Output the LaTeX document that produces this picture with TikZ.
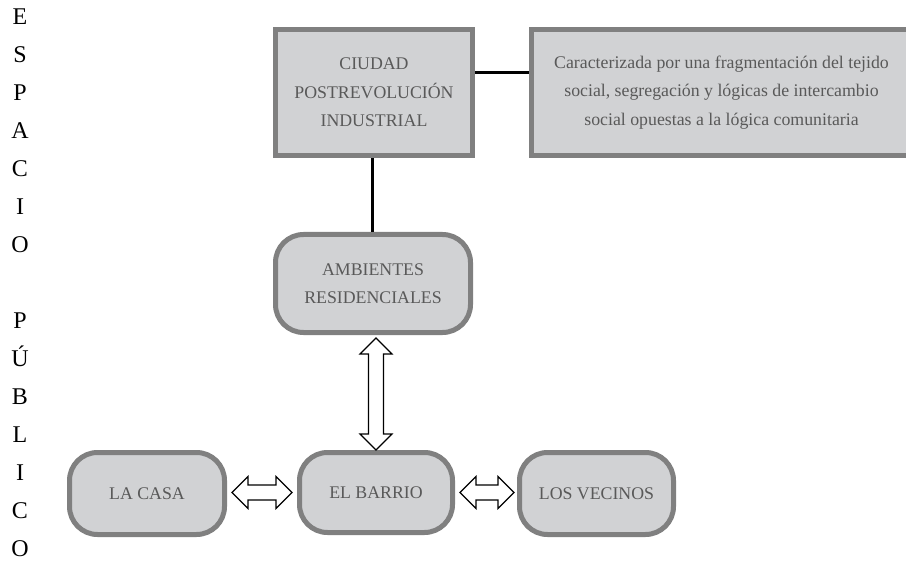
\documentclass[tikz,border=0pt]{standalone}
\usepackage{fontspec}
\setmainfont{Liberation Serif}
\usetikzlibrary{calc}
\definecolor{boxfill}{HTML}{D1D2D4}
\definecolor{boxline}{HTML}{808080}
\definecolor{boxtext}{HTML}{595959}
\newcommand\dblarrow[2]{%
  \path[arr] let \p1=(#1), \p2=(#2),
    \n1={atan2(\y2-\y1,\x2-\x1)}, \n2={veclen(\x2-\x1,\y2-\y1)} in
    [shift={(\p1)}, rotate=\n1]
    (0,0) -- (16,16) -- (16,7.5) -- (\n2-16,7.5) -- (\n2-16,16) -- (\n2,0)
    -- (\n2-16,-16) -- (\n2-16,-7.5) -- (16,-7.5) -- (16,-16) -- cycle;}
\begin{document}
\begin{tikzpicture}[x=1pt,y=-1pt,
  box/.style={draw=boxline, fill=boxfill, line width=5pt, text=boxtext,
    align=center, font=\fontsize{17.8}{28.5}\selectfont, inner sep=0pt},
  sqbox/.style={box},
  rbox/.style={box, rounded corners=28pt},
  conn/.style={line width=3pt, draw=black},
  arr/.style={draw=black, fill=white, line width=1.1pt, line join=miter},
  side/.style={font=\fontsize{24}{24}\selectfont, text=black, inner sep=0pt}]
\useasboundingbox (0,0) rectangle (906,567);

\foreach \ch [count=\i] in {E,S,P,A,C,I,O}
  \node[side, anchor=base] (esp\i) at (20,{25+(\i-1)*37.93}) {\ch};
\foreach \ch [count=\i] in {P,Ú,B,L,I,C,O}
  \node[side, anchor=base] (pub\i) at (20,{25+(\i+7)*37.93}) {\ch};

\node[sqbox, minimum width=197pt, minimum height=126pt] (ciudad) at (374,92.5)
  {CIUDAD\\POSTREVOLUCIÓN\\INDUSTRIAL};
\node[sqbox, minimum width=380pt, minimum height=126pt] (desc) at (721.5,92.5)
  {Caracterizada por una fragmentación del tejido\\social, segregación y lógicas de intercambio\\social opuestas a la lógica comunitaria};
\node[rbox, minimum width=195pt, minimum height=98pt] (amb) at (373,283.5)
  {AMBIENTES\\RESIDENCIALES};
\node[rbox, minimum width=153pt, minimum height=80pt] (barrio) at (376,492.5) {EL BARRIO};
\node[rbox, minimum width=155pt, minimum height=82pt] (casa) at (147,493.5) {LA CASA};
\node[rbox, minimum width=154pt, minimum height=82pt] (vecinos) at (596.5,493.5) {LOS VECINOS};

\draw[conn] ([yshift=19.5pt]ciudad.east) -- ([yshift=19.5pt]desc.west);
\draw[conn] ([xshift=-2pt]ciudad.south) -- ([xshift=-1pt]amb.north);

\coordinate (va) at ($(amb.south)+(3,3)$);
\coordinate (vb) at (barrio.north);
\coordinate (ha) at ($(casa.east)+(5,-1)$);
\coordinate (hb) at ($(barrio.west)+(-5,0)$);
\coordinate (hc) at ($(barrio.east)+(5,0)$);
\coordinate (hd) at ($(vecinos.west)+(-3,-1)$);
\dblarrow{va}{vb}
\dblarrow{ha}{hb}
\dblarrow{hc}{hd}
\end{tikzpicture}
\end{document}
